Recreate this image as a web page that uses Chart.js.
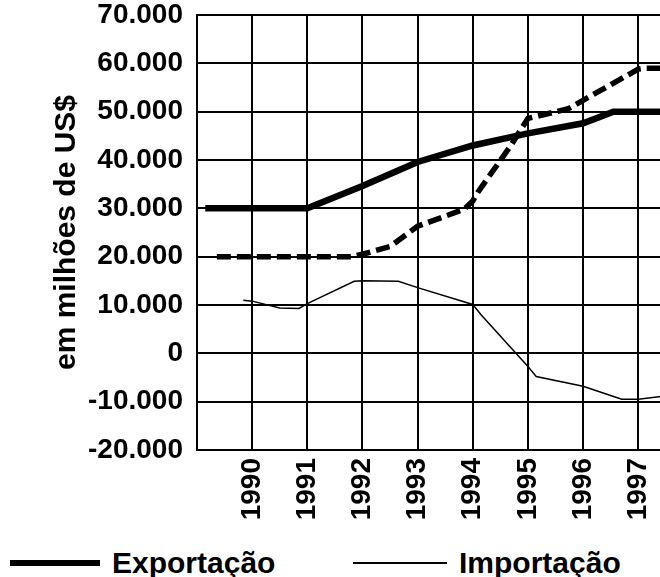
<!DOCTYPE html>
<html lang="pt-BR">
<head>
<meta charset="utf-8">
<title>Exportação e Importação</title>
<script src="https://cdn.jsdelivr.net/npm/chart.js@4.4.1/dist/chart.umd.min.js"></script>
<style>
  body { margin: 0; width: 660px; height: 577px; overflow: hidden; background: #fff; position: relative; }
  #grafico { position: absolute; left: 0; top: 0; }
  .legenda { position: absolute; top: 546px; height: 34px; display: flex; align-items: center;
             font: bold 30px "Liberation Sans", Arial, sans-serif; color: #000; white-space: nowrap; }
  .traco { display: inline-block; background: #000; margin-right: 12px; }
  .grosso { width: 90px; height: 6px; }
  .fino { width: 94px; height: 1.5px; }
</style>
</head>
<body>
<canvas id="grafico" width="735" height="530"></canvas>
<div class="legenda" style="left:10px"><span class="traco grosso"></span>Exportação</div>
<div class="legenda" style="left:353px"><span class="traco fino"></span>Importação</div>
<script>
const anos = [1990, 1991, 1992, 1993, 1994, 1995, 1996, 1997];
const valoresY = [-20000, -10000, 0, 10000, 20000, 30000, 40000, 50000, 60000, 70000];
const rotulosY = ['-20.000', '-10.000', '0', '10.000', '20.000', '30.000', '40.000', '50.000', '60.000', '70.000'];

// linha grossa
const exportacaoAno = [1989.15, 1990, 1991, 1992, 1993, 1994, 1995, 1996, 1996.55, 1997, 1998];
const exportacao = [30000, 30000, 30000, 34600, 39600, 43000, 45500, 47600, 50000, 50000, 50000];

// linha fina
const importacaoAno = [1989.84, 1990, 1990.5, 1990.85, 1991, 1991.85, 1992, 1992.65, 1993, 1994, 1994.15, 1995, 1995.15, 1996, 1996.7, 1997, 1997.45];
const importacao = [11000, 10800, 9400, 9300, 10300, 14900, 15000, 14900, 13600, 10100, 8000, -2700, -4800, -6800, -9500, -9500, -8900];

// linha tracejada (legenda cortada)
const saldoAno = [1989.36, 1990, 1991, 1991.8, 1992, 1992.5, 1993, 1993.84, 1994, 1994.09, 1994.69, 1995, 1995.73, 1997, 1997.1, 1998];
const saldo = [20000, 20000, 20000, 20000, 20500, 22100, 26300, 29800, 31500, 33300, 43000, 48600, 50600, 58800, 59000, 59000];

const pares = (xs, ys) => xs.map((x, i) => ({ x: x, y: ys[i] }));

const fonte = { family: '"Liberation Sans", Arial, sans-serif', size: 28, weight: 'bold' };

new Chart(document.getElementById('grafico'), {
    type: 'line',
    data: {
        datasets: [{
            label: 'Exportação',
            data: pares(exportacaoAno, exportacao),
            borderColor: '#000',
            borderWidth: 6.5,
            borderCapStyle: 'butt',
            pointRadius: 0
        }, {
            label: 'Importação',
            data: pares(importacaoAno, importacao),
            borderColor: '#000',
            borderWidth: 1.5,
            pointRadius: 0
        }, {
            label: 'Saldo',
            data: pares(saldoAno, saldo),
            borderColor: '#000',
            borderWidth: 5.5,
            borderDash: [14, 6],
            borderCapStyle: 'butt',
            pointRadius: 0
        }]
    },
    options: {
        responsive: false,
        animation: false,
        plugins: {
            legend: { display: false },
            tooltip: { enabled: false }
        },
        scales: {
            x: {
                type: 'linear',
                min: 1989,
                max: 1998,
                grid: { color: '#000', lineWidth: 2, drawTicks: false },
                border: { color: '#000', width: 2 },
                ticks: {
                    stepSize: 1,
                    autoSkip: false,
                    minRotation: 90,
                    maxRotation: 90,
                    padding: 8,
                    color: '#000',
                    font: fonte,
                    callback: v => anos.includes(v) ? String(v) : ''
                },
                afterFit: s => { s.height = 80; }
            },
            y: {
                min: -20000,
                max: 70000,
                grid: { color: '#000', lineWidth: 2, drawTicks: false },
                border: { color: '#000', width: 2 },
                ticks: {
                    stepSize: 10000,
                    padding: 14,
                    color: '#000',
                    font: fonte,
                    callback: v => rotulosY[valoresY.indexOf(v)]
                },
                title: {
                    display: true,
                    text: 'em milhões de US$',
                    color: '#000',
                    font: { family: '"Liberation Sans", Arial, sans-serif', size: 30, weight: 'bold' },
                    padding: { top: 49, bottom: 0 }
                },
                afterFit: s => { s.width = 197; s.paddingTop = 15; }
            }
        }
    }
});
</script>
</body>
</html>
